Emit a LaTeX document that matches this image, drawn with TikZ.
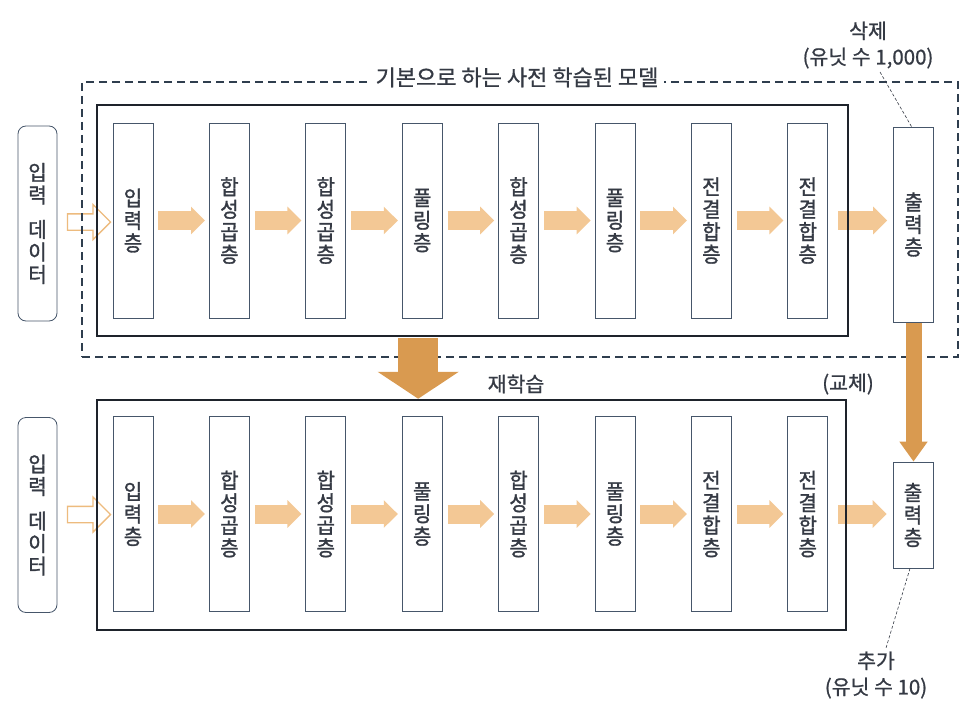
\documentclass[tikz,border=0pt]{standalone}
\usepackage{fontspec}
\setmainfont[FakeBold=0.8]{Noto Sans CJK KR}
\newfontfamily\stackfont[FakeStretch=0.95,FakeBold=1.4]{Noto Sans CJK KR}
\usetikzlibrary{arrows.meta,shapes.arrows,positioning}

\definecolor{txtgray}{HTML}{353A44}
\definecolor{boxgray}{HTML}{46566A}
\definecolor{framegray}{HTML}{1E232B}
\definecolor{dashgray}{HTML}{2F3E4E}
\definecolor{flowlight}{HTML}{F3C895}
\definecolor{flowstrong}{HTML}{D99A50}
\definecolor{hollowedge}{HTML}{EDBB7E}

\tikzset{
  layer/.style={draw=boxgray, line width=0.8pt, minimum width=40pt, minimum height=195pt,
    inner sep=0pt, align=center, text=txtgray, font=\stackfont\fontsize{21}{22.5}\selectfont},
  datain/.style={layer, rounded corners=8pt, minimum width=39pt},
  netframe/.style={draw=framegray, line width=2.5pt, inner sep=0pt},
  modelbox/.style={draw=dashgray, line width=1.4pt, dash pattern=on 8pt off 5pt, inner sep=0pt},
  modeltitle/.style={fill=white, inner xsep=6pt, inner ysep=2pt, text=txtgray,
    font=\fontsize{22}{24}\selectfont},
  caption/.style={text=txtgray, font=\fontsize{20.5}{24}\selectfont},
  notetext/.style={align=center, text=txtgray, font=\fontsize{20.5}{26}\selectfont},
  flow/.style={draw=flowlight, line width=19pt, -{Triangle[length=14pt,width=27pt]},
    shorten <=5pt, shorten >=4pt},
  hollow/.style={single arrow, draw=hollowedge, line width=1.3pt, fill=white,
    minimum height=43pt, inner sep=7.5pt, single arrow head extend=9.5pt},
  bigflow/.style={draw=flowstrong, line width=40pt, -{Triangle[length=27pt,width=80pt]},
    shorten <=1.2pt},
  sideflow/.style={draw=flowstrong, line width=16pt, -{Triangle[length=20pt,width=27pt]},
    shorten <=0.5pt},
  leader/.style={draw=txtgray, line width=0.6pt, densely dashed}
}

\begin{document}
\begin{tikzpicture}[x=1pt,y=-1pt]
\useasboundingbox (0,0) rectangle (979,709);
% input data
\node[datain] (dataT) at (37.5,223.5) {입\\력\\[12pt]데\\이\\터};
\node[datain] (dataB) at (37.5,515) {입\\력\\[12pt]데\\이\\터};
% layers of both networks
\foreach \i/\txt in {1/{입\\력\\층}, 2/{합\\성\\곱\\층}, 3/{합\\성\\곱\\층}, 4/{풀\\링\\층},
    5/{합\\성\\곱\\층}, 6/{풀\\링\\층}, 7/{전\\결\\합\\층}, 8/{전\\결\\합\\층}}
{
  \node[layer] (t\i) at ({133+96.4*(\i-1)},220.5) {\txt};
  \node[layer] (b\i) at ({133+96.4*(\i-1)},514) {\txt};
}
\node[layer] (tOut) at (913.5,224.5) {출\\력\\층};
\node[layer, minimum height=106pt] (bOut) at (913,515) {출\\력\\층};
% data flow
\path (dataT) -- (t1) node[midway, hollow] {};
\path (dataB) -- (b1) node[midway, hollow] {};
\foreach \i [evaluate=\i as \j using int(\i+1)] in {1,...,7}
{
  \draw[flow] (t\i) -- (t\j);
  \draw[flow] (b\i) -- (b\j);
}
\draw[flow, shorten <=10pt, shorten >=6pt] (t8.east) -- (t8.east -| tOut.west);
\draw[flow, shorten <=10pt, shorten >=6pt] (b8.east) -- (b8.east -| bOut.west);
% frames
\node[netframe, minimum width=751pt, minimum height=231pt] (topFrame) at (472.5,220.5) {};
\node[netframe, minimum width=749pt, minimum height=230pt] (botFrame) at (471.5,515) {};
\node[modelbox, minimum width=876pt, minimum height=275pt] (modelFrame) at (520,219.5) {};
\node[modeltitle, yshift=4pt] (modelTitle) at ([xshift=-3pt]modelFrame.north) {기본으로 하는 사전 학습된 모델};
% retraining
\draw[bigflow] ([xshift=-4pt]t4 |- topFrame.south) -- ([xshift=-4pt]t4 |- botFrame.north);
\draw[sideflow] (tOut.south) -- (tOut.south |- bOut.north);
\node[caption] (reLabel) at (516,384) {재학습};
\node[caption] (swapLabel) at (848,384) {(교체)};
% notes
\node[notetext] (delNote) at (868,45) {삭제\\(유닛 수 1,000)};
\node[notetext] (addNote) at (876,675) {추가\\(유닛 수 10)};
\draw[leader] ([xshift=12pt]delNote.south) -- ([xshift=-2pt]tOut.north);
\draw[leader] ([xshift=-3pt]bOut.south) -- ([xshift=10pt]addNote.north);
\end{tikzpicture}
\end{document}
